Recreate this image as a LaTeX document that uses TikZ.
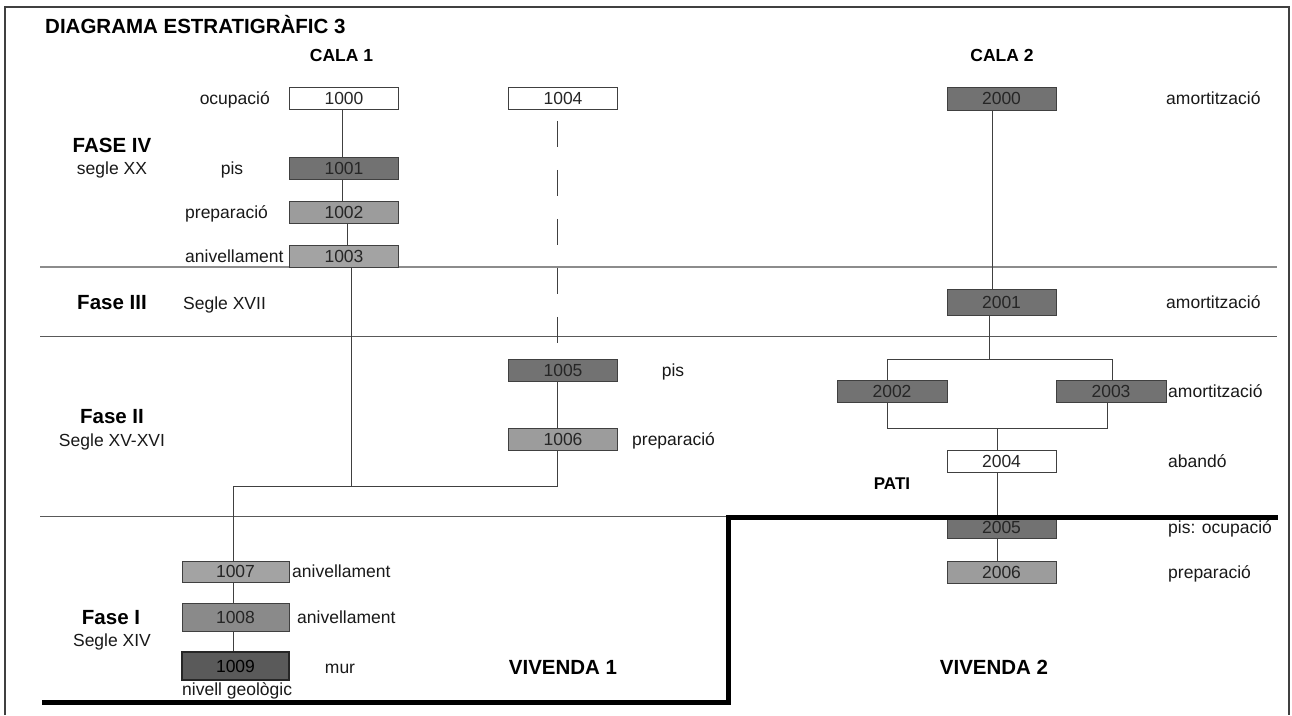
\documentclass[tikz,border=0pt]{standalone}
\usepackage{fontspec}
\setmainfont{Liberation Sans}
\definecolor{dkfill}{HTML}{727272}
\definecolor{mdfill}{HTML}{9C9C9C}
\definecolor{mcfill}{HTML}{8A8A8A}
\definecolor{vdfill}{HTML}{5A5A5A}
\definecolor{linec}{HTML}{404040}
\begin{document}
\begin{tikzpicture}[x=1pt,y=-1pt,
  ue/.style={draw=linec, line width=0.8pt, minimum width=109pt, minimum height=22pt, inner sep=0pt,
    font=\fontsize{17.5}{20}\selectfont, text=black!85},
  uewhite/.style={ue, fill=white},
  uedark/.style={ue, fill=dkfill},
  uemid/.style={ue, fill=mdfill},
  lbl/.style={inner sep=0pt, font=\fontsize{17.5}{20}\selectfont, text=black!90},
  hdr/.style={inner sep=0pt, font=\fontsize{20.5}{24}\selectfont\bfseries, text=black},
  sub/.style={inner sep=0pt, font=\fontsize{17.5}{20}\selectfont\bfseries, text=black},
  big/.style={inner sep=0pt, font=\fontsize{20.5}{24}\selectfont\bfseries, text=black},
  conn/.style={draw=linec, line width=0.9pt},
  divider/.style={draw=black!65, line width=1pt},
  thickline/.style={draw=black, line width=5pt},
  frame/.style={draw=black!75, line width=1.5pt}]
\useasboundingbox (0,0) rectangle (1292,715);
\fill[white] (0,0) rectangle (1292,715);

% frame
\draw[frame] (5,715) -- (5,7) -- (1289,7) -- (1289,715);

% dividers
\draw[draw=black!45, line width=2pt] (40,267) -- (1277,267);
\draw[divider] (40,336) -- (1277,336);
\draw[divider] (40,516) -- (728,516);

% title and headers
\node[hdr, anchor=base west] (title) at (45,33) {DIAGRAMA ESTRATIGRÀFIC 3};
\node[sub, anchor=base] (cala1) at (341.5,61) {CALA 1};
\node[sub, anchor=base] (cala2) at (1002,61) {CALA 2};

% phase labels
\node[hdr, anchor=base] (f4) at (112,152) {FASE IV};
\node[lbl, anchor=base] (f4s) at (112,174) {segle XX};
\node[hdr, anchor=base] (f3) at (112,309) {Fase III};
\node[lbl, anchor=base west] (f3s) at (183,309) {Segle XVII};
\node[hdr, anchor=base] (f2) at (112,423) {Fase II};
\node[lbl, anchor=base] (f2s) at (112,446) {Segle XV-XVI};
\node[hdr, anchor=base] (f1) at (111,624) {Fase I};
\node[lbl, anchor=base] (f1s) at (112,646) {Segle XIV};

% units CALA 1
\node[uewhite] (b1000) at (344,98) {1000};
\node[uedark] (b1001) at (344,168.5) {1001};
\node[uemid] (b1002) at (344,212.5) {1002};
\node[uemid, fill=black!36] (b1003) at (344,256) {1003};
\node[uewhite] (b1004) at (563,98.5) {1004};
\node[uedark] (b1005) at (563,370) {1005};
\node[uemid] (b1006) at (563,439) {1006};
\node[uemid, fill=black!36, minimum width=107pt, minimum height=21pt] (b1007) at (235.5,571.5) {1007};
\node[ue, fill=mcfill, minimum width=107pt, minimum height=28pt] (b1008) at (235.5,617) {1008};
\node[ue, fill=vdfill, draw=black!85, line width=1.2pt, minimum width=107pt, minimum height=28pt, text=black] (b1009) at (235.5,666) {1009};

% units CALA 2
\node[uedark, minimum height=23pt] (b2000) at (1001.5,98.5) {2000};
\node[uedark, minimum height=26pt] (b2001) at (1001.5,302) {2001};
\node[uedark, minimum width=110pt] (b2002) at (892,391.5) {2002};
\node[uedark, minimum width=110pt] (b2003) at (1111,391.5) {2003};
\node[uewhite] (b2004) at (1001.5,461) {2004};
\node[uedark] (b2005) at (1001.5,527) {2005};
\node[uemid] (b2006) at (1001.5,572) {2006};

% unit labels
\node[lbl, anchor=base east] (l1000) at (270,104) {ocupació};
\node[lbl, anchor=base] (l1001) at (232,174) {pis};
\node[lbl, anchor=base west] (l1002) at (185,218.5) {preparació};
\node[lbl, anchor=base west] (l1003) at (185,262) {anivellament};
\node[lbl, anchor=base] (l1005) at (673,376) {pis};
\node[lbl, anchor=base west] (l1006) at (632,445) {preparació};
\node[lbl, anchor=base west] (l1007) at (292,577.5) {anivellament};
\node[lbl, anchor=base west] (l1008) at (297,623.5) {anivellament};
\node[lbl, anchor=base] (l1009) at (340,673) {mur};
\node[lbl, anchor=base west] (lgeo) at (182,695) {nivell geològic};
\node[lbl, anchor=base west] (l2000) at (1166,104.5) {amortització};
\node[lbl, anchor=base west] (l2001) at (1166,308) {amortització};
\node[lbl, anchor=base west] (l2003) at (1168,397.5) {amortització};
\node[lbl, anchor=base west] (l2004) at (1168,467) {abandó};
\node[lbl, anchor=base west] (l2005) at (1168,533) {pis: ocupació};
\node[lbl, anchor=base west] (l2006) at (1168,578) {preparació};
\node[sub, font=\fontsize{17}{20}\selectfont\bfseries, anchor=base] (pati) at (892,489) {PATI};
\node[big, anchor=base] (viv1) at (563,674) {VIVENDA 1};
\node[big, anchor=base] (viv2) at (994,674) {VIVENDA 2};

% connectors CALA 1
\coordinate (j0) at (233,486);
\coordinate (j1) at (351,486);
\coordinate (j2) at (557,486);
\draw[conn] ([xshift=-2pt]b1000.south) -- ([xshift=-2pt]b1001.north);
\draw[conn] ([xshift=-2pt]b1001.south) -- ([xshift=-2pt]b1002.north);
\draw[conn] ([xshift=3pt]b1002.south) -- ([xshift=3pt]b1003.north);
\draw[conn] (b1003.south -| j1) -- (j1);
\draw[conn, dash pattern=on 26pt off 23pt, dash phase=38pt] (b1004.south -| j2) -- (b1005.north -| j2);
\draw[conn] (b1005.south -| j2) -- (b1006.north -| j2);
\draw[conn] (b1006.south -| j2) -- (j2) -- (j0) -- (b1007.north -| j0);
\draw[conn] (b1007.south -| j0) -- (b1008.north -| j0);
\draw[conn] (b1008.south -| j0) -- (b1009.north -| j0);

% connectors CALA 2
\coordinate (k1) at (992,0);
\coordinate (s1) at (989,359);
\coordinate (s2) at (887,359);
\coordinate (s3) at (1112,359);
\coordinate (t1) at (887,428);
\coordinate (t2) at (1107,428);
\coordinate (t3) at (997,428);
\draw[conn] (b2000.south -| k1) -- (b2001.north -| k1);
\draw[conn] (b2001.south -| s1) -- (s1);
\draw[conn] (b2002.north -| s2) -- (s2) -- (s3) -- (b2003.north -| s3);
\draw[conn] (b2002.south -| t1) -- (t1) -- (t2) -- (b2003.south -| t2);
\draw[conn] (t3) -- (b2004.north -| t3);
\draw[conn] (b2004.south -| t3) -- (b2005.north -| t3);
\draw[conn] (b2005.south -| t3) -- (b2006.north -| t3);

% thick boundary line
\coordinate (th0) at (42,702);
\coordinate (th1) at (728,702);
\coordinate (th2) at (728,517);
\coordinate (th3) at (1278,517);
\draw[thickline] (th0) -- (th1) -- (th2) -- (th3);
\end{tikzpicture}
\end{document}
